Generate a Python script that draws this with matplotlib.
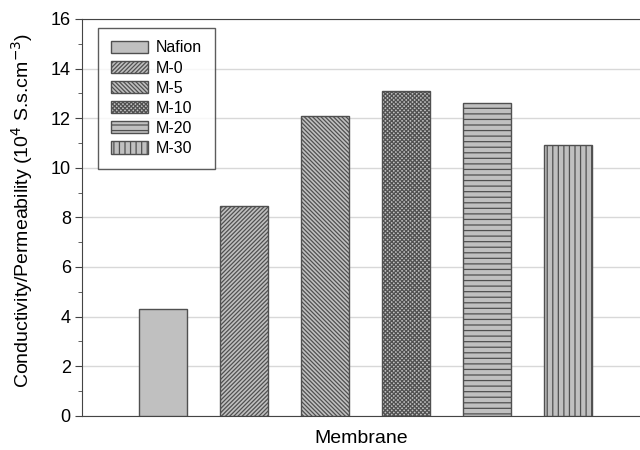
import matplotlib.pyplot as plt
from matplotlib.ticker import MultipleLocator

plt.rcParams['font.family'] = ['Liberation Sans', 'DejaVu Sans']
plt.rcParams['hatch.linewidth'] = 0.9
plt.rcParams['hatch.color'] = '#383838'

membranes = ["Nafion", "M-0", "M-5", "M-10", "M-20", "M-30"]
selectivity = [4.3, 8.45, 12.1, 13.1, 12.6, 10.9]
hatches = [None, "////////", "\\\\\\\\\\\\\\\\", "xxxxxxxx", "---", "|||"]

fig = plt.figure(figsize=(6.4, 4.5), dpi=100)
ax = fig.add_axes([0.128, 0.076, 0.872, 0.882])

for i, (name, val, h) in enumerate(zip(membranes, selectivity, hatches)):
    ax.bar(i, val, width=0.6, color="#c0c0c0", edgecolor="#505050",
           linewidth=1.0, hatch=h, label=name, zorder=3)

ax.set_xlim(-1, 5.89)
ax.set_ylim(0, 16)
ax.yaxis.set_major_locator(MultipleLocator(2))
ax.yaxis.set_minor_locator(MultipleLocator(1))
ax.set_xticks([])
ax.grid(axis="y", color="#d8d8d8", linewidth=1.0, zorder=0)
ax.tick_params(axis="y", which="major", direction="out", length=5, labelsize=13,
               color="#444444", pad=3)
ax.tick_params(axis="y", which="minor", direction="out", length=3, color="#444444")
for side in ("left", "bottom", "top"):
    ax.spines[side].set_color("#444444")
ax.spines["right"].set_visible(False)

ax.set_xlabel("Membrane", fontsize=14, labelpad=10)
ax.set_ylabel(r"Conductivity/Permeability (10$^4$ S.s.cm$^{-3}$)", fontsize=14)
ax.yaxis.set_label_coords(-0.084, 0.517)

leg = ax.legend(loc="upper left", bbox_to_anchor=(0.029, 0.978), fontsize=11.5,
                frameon=True, fancybox=False, edgecolor="#333333",
                handlelength=2.3, handleheight=0.8, labelspacing=0.32,
                borderpad=0.8, handletextpad=0.5, borderaxespad=0)
leg.get_frame().set_linewidth(1.0)

fig.savefig("out.png", dpi=100)
